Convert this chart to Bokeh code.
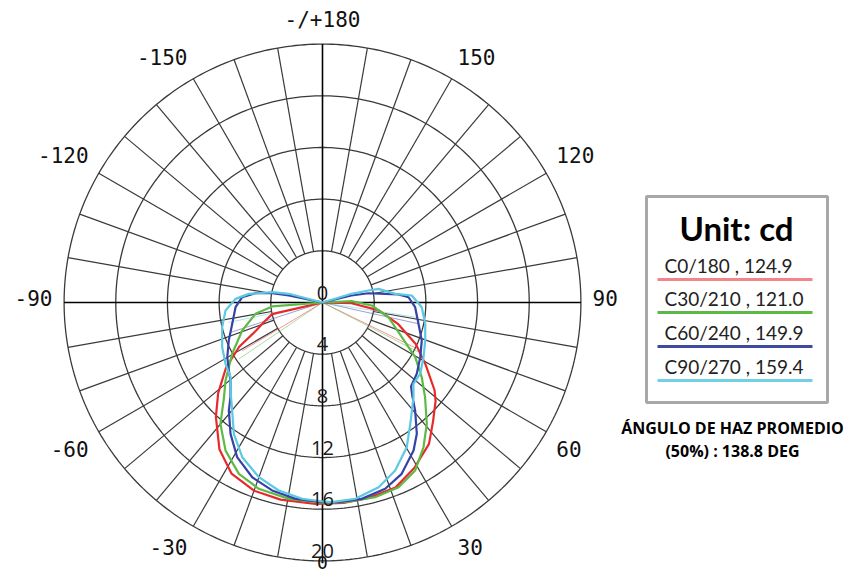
import numpy as np
from bokeh.plotting import figure
from bokeh.models import Range1d
from bokeh.core.properties import value
from bokeh.embed import file_html
from bokeh.resources import INLINE

# ---------------- data ----------------
RING_VALUES = [4, 8, 12, 16, 20]
RING_LABELS = ["0", "4", "8", "12", "16", "20"]
ANGLE_TICKS = [0, 30, 60, 90, 120, 150, 180, -150, -120, -90, -60, -30]
ANGLE_TEXTS = ["0", "30", "60", "90", "120", "150", "-/+180", "-150", "-120", "-90", "-60", "-30"]

SERIES_NAMES = ["C0/180 , 124.9", "C30/210 , 121.0", "C60/240 , 149.9", "C90/270 , 159.4"]

RED_ANG = [-80, -77, -72, -67, -62, -56, -49, -43, -35, -28, -20, -12, -2, 6, 13, 21.5, 29, 37, 43, 49, 52, 59, 66, 74, 82, 88.5, 87]
RED_I = [0, 4.0, 4.7, 5.6, 7.3, 9.0, 10.7, 12.1, 13.9, 15.0, 15.5, 15.6, 15.6, 15.6, 15.55, 15.4, 14.65, 13.7, 12.55, 11.6, 11.0, 9.3, 7.9, 6.1, 4.4, 2.25, 0]

GREEN_ANG = [-83, -85.5, -80.4, -70.8, -60.4, -51.2, -45.7, -40.1, -33.2, -26, -18.9, -9.7, 0, 6.5, 15.1, 22.4, 28.9, 34.9, 40.7, 47.3, 53, 59.5, 66.4, 77.4, 86.5, 92.6, 93]
GREEN_I = [0, 3.9, 5.26, 6.58, 8.04, 9.63, 10.67, 12.27, 13.7, 14.76, 15.24, 15.42, 15.5, 15.55, 15.61, 15.46, 14.85, 13.66, 12.38, 10.8, 9.62, 8.33, 6.7, 5.23, 3.82, 2.25, 0]

BLUE_ANG = [-104, -101.7, -100.5, -97.9, -93.8, -86.9, -76.7, -67.9, -60.1, -54, -49.7, -44.2, -40.9, -35, -28.9, -21.9, -15, -7.8, 0, 4.6, 11.3, 18.6, 24.8, 31.6, 35.7, 40.6, 44, 46.5, 52.9, 60.8, 69, 77.5, 87.1, 93.5, 96, 97.9, 101.4, 103.6, 104]
BLUE_I = [0, 2.66, 3.96, 5.24, 6.23, 6.74, 7.18, 7.83, 8.5, 8.96, 9.34, 10.22, 11.07, 12.41, 13.67, 14.58, 15.06, 15.34, 15.45, 15.5, 15.5, 15.21, 14.61, 13.45, 12.51, 11.02, 10.0, 9.45, 9.15, 8.67, 8.23, 7.61, 7.18, 6.67, 5.91, 4.9, 3.63, 2.3, 0]

CYAN_ANG = [-105, -104.5, -101.6, -96.7, -92.4, -85.3, -76.2, -66, -57.7, -50.9, -46.3, -39.9, -34, -27.4, -20, -13.1, -5.9, 0, 2.7, 9.5, 16.9, 23.4, 30.2, 35.9, 43.9, 48.2, 53.9, 61.6, 69.7, 78.3, 87.3, 94.5, 96.8, 103.7, 104.6, 106.7, 107]
CYAN_I = [0, 2.69, 3.97, 5.74, 6.74, 7.53, 8.0, 8.5, 8.88, 9.17, 9.85, 10.9, 12.27, 13.49, 14.39, 14.94, 15.27, 15.4, 15.47, 15.4, 14.94, 14.17, 12.96, 11.59, 10.16, 9.44, 9.36, 8.89, 8.48, 8.12, 7.69, 6.93, 5.67, 4.46, 3.68, 2.34, 0]

# faint closing segments (angle, intensity) per series: left, right
CLOSE_ANG = [[-59, 64], [-56, 62.7], [-72, 77.5], [-78, 81]]
CLOSE_I = [[7.24, 7.97], [7.8, 8.37], [7.49, 7.61], [7.44, 7.52]]

CURVE_COLORS = ["#e8292b", "#5dbb45", "#3543a6", "#5cc8e2"]
LEGEND_COLORS = ["#f2848c", "#5cb947", "#3e4aa0", "#72d0e4"]

# ---------------- geometry helpers ----------------
S = 12.92          # px per unit
CX, CY = 322, 302  # canvas px of polar centre
W, H = 845, 572


def X(px):
    return (px - CX) / S


def Y(py):
    return (CY - py) / S


def polar(ang, r):
    a = np.radians(np.asarray(ang, dtype=float))
    r = np.asarray(r, dtype=float)
    return r * np.sin(a), -r * np.cos(a)


p = figure(width=W, height=H, output_backend="svg", toolbar_location=None,
           x_range=Range1d(X(0), X(W)), y_range=Range1d(Y(H), Y(0)),
           x_axis_type=None, y_axis_type=None, min_border=0)
p.outline_line_color = None
p.grid.visible = False
p.background_fill_color = "white"
p.border_fill_color = "white"

GRID = "#3a3a3a"
# rings
for rv in RING_VALUES:
    t = np.linspace(0, 360, 361)
    xs, ys = polar(t, np.full_like(t, rv))
    p.line(xs, ys, line_color=GRID, line_width=1.3)

# radial spokes every 10 deg
rx, ry = [], []
for a in range(0, 360, 10):
    if a % 90 == 0:
        continue
    xs, ys = polar([a, a], [RING_VALUES[0], RING_VALUES[-1]])
    rx.append(list(xs))
    ry.append(list(ys))
p.multi_line(rx, ry, line_color=GRID, line_width=1.2)
# main axes
p.line([-20, 20], [0, 0], line_color="black", line_width=1.6)
p.line([0, 0], [-20, 20], line_color="black", line_width=1.6)

# angle labels
for a, t in zip(ANGLE_TICKS, ANGLE_TEXTS):
    rr = 20.9
    size = "21px"
    if a == 0:
        xx = [0.0]
        yy = [Y(562)]
        align, base = "center", "middle"
        size = "18px"
    else:
        xx, yy = polar([a], [rr])
        yy = list(yy)
        if a in (180, -180):
            align, base = "center", "bottom"
        else:
            align = "left" if a > 0 else "right"
            if abs(a) > 90:
                base = "bottom"
                yy[0] += 4 / S
            elif abs(a) < 90:
                base = "top"
                yy[0] -= 3 / S
            else:
                base = "middle"
                yy[0] += 5 / S
    p.text(x=list(xx), y=list(yy), text=[t], text_font=value("DejaVu Sans Mono"),
           text_font_size=size, text_color="#111111", text_align=align, text_baseline=base)

# curves
curves = [(RED_ANG, RED_I), (GREEN_ANG, GREEN_I), (BLUE_ANG, BLUE_I), (CYAN_ANG, CYAN_I)]
for k, (ang, inten) in enumerate(curves):
    for ca, ci in zip(CLOSE_ANG[k], CLOSE_I[k]):
        xs, ys = polar([ca, ca], [0, ci])
        p.line(xs, ys, line_color=CURVE_COLORS[k], line_width=1.0, line_alpha=0.5)
for k, (ang, inten) in enumerate(curves):
    xs, ys = polar(ang, inten)
    p.line(xs, ys, line_color=CURVE_COLORS[k], line_width=2.2)

# ring labels (drawn over curves)
ring_r = [0] + RING_VALUES
p.text(x=[0] * len(ring_r), y=[-(r) + 10 / S for r in ring_r], text=RING_LABELS,
       text_font=value("Open Sans"), text_font_size="20px", text_color="#1a1a1a",
       text_align="center", text_baseline="middle")

# legend box
p.quad(left=[X(646)], right=[X(827)], bottom=[Y(402)], top=[Y(196)],
       fill_color=None, line_color="#a8a8a8", line_width=3)
p.text(x=[X(736)], y=[Y(227)], text=["Unit: cd"], text_font=value("Lato"),
       text_font_style="bold", text_font_size="33px", text_color="black",
       text_align="center", text_baseline="middle")
text_y = [265, 298, 332, 366]
line_y = [279, 312, 346, 380]
for k, name in enumerate(SERIES_NAMES):
    p.text(x=[X(664)], y=[Y(text_y[k])], text=[name], text_font=value("Lato"),
           text_font_size="19px", text_color="#222222", text_align="left", text_baseline="middle")
    p.line([X(657), X(812)], [Y(line_y[k]), Y(line_y[k])], line_color=LEGEND_COLORS[k], line_width=3)

p.text(x=[X(732), X(732)], y=[Y(427), Y(450)],
       text=["ÁNGULO DE HAZ PROMEDIO", "(50%) : 138.8 DEG"],
       text_font=value("Open Sans"), text_font_style="bold", text_font_size="16px",
       text_color="black", text_align="center", text_baseline="middle")

open("out.html", "w").write(file_html(p, INLINE))
